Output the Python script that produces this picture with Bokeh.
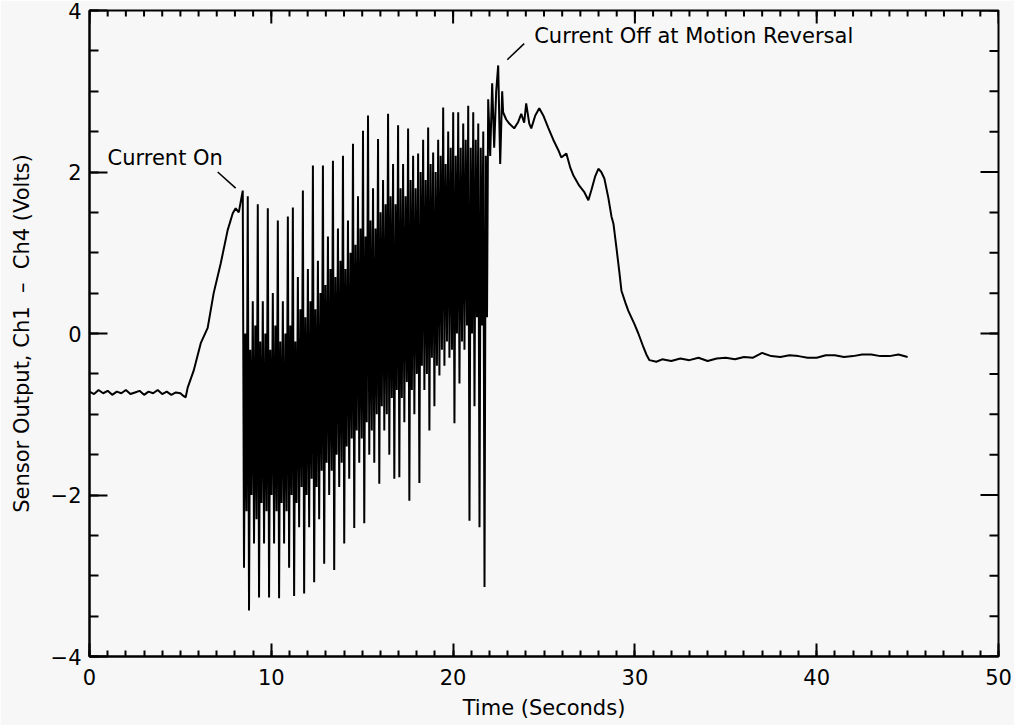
import numpy as np
from bokeh.plotting import figure
from bokeh.models import FixedTicker, Range1d
from bokeh.core.properties import value
from bokeh.embed import file_html
from bokeh.resources import INLINE

# ---- data ----
pre_t = [0.0, 0.25, 0.5, 0.75, 1.0, 1.25, 1.5, 1.75, 2.0, 2.25, 2.5, 2.75, 3.0, 3.25, 3.5,
         3.75, 4.0, 4.25, 4.5, 4.75, 5.0, 5.15, 5.29, 5.40, 5.73, 6.12, 6.50, 6.83, 7.22,
         7.60, 7.88, 8.04, 8.21]
pre_v = [-0.72, -0.75, -0.70, -0.74, -0.71, -0.76, -0.72, -0.74, -0.70, -0.75, -0.73, -0.71,
         -0.76, -0.72, -0.74, -0.70, -0.75, -0.72, -0.76, -0.73, -0.74, -0.77, -0.79, -0.67,
         -0.46, -0.12, 0.07, 0.50, 0.87, 1.28, 1.49, 1.55, 1.50]

# oscillation while the current is on (one cycle = peak, trough, core top, core bottom)
osc_t0 = 8.43
osc_dt = 0.0689
osc_high = [1.77, 1.70, 0.40, 1.60, 0.40, 1.55, 0.50, 1.40, 0.40, 1.45,
            1.56, 0.70, 1.77, 0.80, 2.08, 0.90, 2.08, 1.20, 2.14, 1.30,
            2.20, 1.40, 2.35, 1.70, 2.51, 2.70, 1.80, 2.41, 1.90, 2.72,
            2.10, 2.58, 2.10, 2.54, 2.20, 2.23, 2.40, 2.55, 2.24, 2.40,
            2.80, 2.50, 2.74, 2.74, 2.60, 2.82, 2.74, 2.60, 2.50]
osc_low = [-2.90, -3.43, -2.60, -3.27, -2.60, -3.27, -2.60, -3.28, -2.60, -2.90,
           -3.25, -2.40, -3.22, -2.40, -3.08, -2.30, -2.85, -2.00, -2.93, -1.90,
           -2.60, -1.80, -2.41, -1.60, -2.35, -1.50, -1.60, -1.86, -1.20, -1.50,
           -1.80, -1.78, -1.10, -2.07, -1.00, -1.85, -0.70, -1.20, -0.90, -0.52,
           -0.40, -0.30, -1.11, -0.62, -0.20, -2.32, -0.90, -2.40, -3.14]
osc_core_top = [0.0, -0.2, 0.1, -0.1, 0.0, -0.2, 0.1, -0.1, 0.0, 0.1,
                -0.1, 0.3, 0.2, 0.4, 0.3, 0.5, 0.6, 0.8, 0.7, 0.9,
                0.8, 1.0, 1.1, 1.3, 1.2, 1.4, 1.3, 1.5, 1.6, 1.7,
                1.6, 1.8, 1.7, 1.9, 1.8, 2.0, 1.9, 2.1, 2.0, 2.2,
                2.1, 2.3, 2.2, 2.3, 2.4, 2.3, 2.4, 2.3, 2.2]
osc_core_bot = [-2.2, -2.0, -2.3, -2.1, -2.2, -2.0, -2.2, -2.1, -2.2, -2.0,
                -2.1, -1.9, -2.0, -1.8, -1.9, -1.7, -1.6, -1.7, -1.5, -1.6,
                -1.4, -1.3, -1.2, -1.3, -1.1, -1.2, -1.0, -0.9, -1.0, -0.8,
                -0.7, -0.8, -0.6, -0.7, -0.5, -0.4, -0.5, -0.3, -0.4, -0.2,
                -0.1, -0.2, 0.0, -0.1, 0.1, 0.0, 0.2, 0.1, 0.2]

post_t = [21.93, 22.04, 22.15, 22.26, 22.37, 22.48, 22.59, 22.70, 22.75, 22.92, 23.09, 23.36,
          23.58, 23.75, 23.91, 24.02, 24.19, 24.30, 24.52, 24.74, 24.96, 25.23, 25.51, 25.79,
          25.95, 26.23, 26.45, 26.61, 26.94, 27.22, 27.44, 27.60, 27.82, 27.99, 28.15, 28.32,
          28.54, 28.71, 28.82, 28.98, 29.15, 29.26, 29.48, 29.64, 29.97, 30.19, 30.47, 30.63,
          30.80, 31.18, 31.5, 32.0, 32.5, 33.0, 33.5, 34.0, 34.5, 35.0, 35.5, 36.0, 36.5,
          37.0, 37.5, 38.0, 38.5, 39.0, 39.5, 40.0, 40.5, 41.0, 41.5, 42.0, 42.5, 43.0,
          43.5, 44.0, 44.5, 45.0]
post_v = [2.90, 2.20, 3.10, 2.30, 3.00, 3.32, 2.10, 3.00, 2.74, 2.65, 2.60, 2.54,
          2.62, 2.72, 2.61, 2.85, 2.60, 2.54, 2.70, 2.79, 2.70, 2.55, 2.40, 2.27,
          2.18, 2.23, 2.05, 1.96, 1.83, 1.75, 1.65, 1.77, 1.95, 2.04, 2.00, 1.92,
          1.68, 1.45, 1.36, 1.07, 0.75, 0.53, 0.38, 0.28, 0.12, 0.00, -0.17, -0.26,
          -0.33, -0.35, -0.32, -0.34, -0.31, -0.33, -0.30, -0.34, -0.31, -0.30, -0.32, -0.29,
          -0.30, -0.24, -0.28, -0.29, -0.27, -0.28, -0.30, -0.30, -0.27, -0.27, -0.29, -0.28,
          -0.26, -0.26, -0.28, -0.28, -0.26, -0.29]

x_major = [0, 10, 20, 30, 40, 50]
x_minor = list(range(0, 51))
y_major = [-4, -2, 0, 2, 4]
y_minor = [-4, -3.5, -3, -2.5, -2, -1.5, -1, -0.5, 0, 0.5, 1, 1.5, 2, 2.5, 3, 3.5, 4]
y_labels = {-4: "\u22124", -2: "\u22122", 0: "0", 2: "2", 4: "4"}

ann_on = "Current On"
ann_off = "Current Off at Motion Reversal"

# ---- assemble the series ----
osc_v = []
for h, l, ct, cb in zip(osc_high, osc_low, osc_core_top, osc_core_bot):
    osc_v += [h, l, ct, cb]
osc_t = [osc_t0 + i * osc_dt for i in range(len(osc_v))]
t = pre_t + osc_t + post_t
v = pre_v + osc_v + post_v

FONT = "DejaVu Sans"
FS = "21px"
BG = "#f7f7f7"

p = figure(width=1014, height=725, output_backend="svg", toolbar_location=None,
           x_range=Range1d(0, 50), y_range=Range1d(-4, 4),
           x_axis_label="Time (Seconds)",
           y_axis_label="Sensor Output, Ch1\u00a0\u00a0\u2013\u00a0\u00a0Ch4 (Volts)",
           min_border_left=89, min_border_right=16, min_border_top=10, min_border_bottom=69,
           background_fill_color=BG, border_fill_color=BG)
p.frame_width = 909
p.frame_height = 646
p.xgrid.visible = False
p.ygrid.visible = False
p.outline_line_color = "black"
p.outline_line_width = 2

p.line(t, v, line_color="black", line_width=2.0)

bottom = p.below[0]
left = p.left[0]
bottom.ticker = FixedTicker(ticks=x_major, minor_ticks=x_minor)
left.ticker = FixedTicker(ticks=y_major, minor_ticks=y_minor)

for ax, mj, mn in [(bottom, 13, 6), (left, 18, 9)]:
    ax.axis_line_color = "black"
    ax.axis_line_width = 2
    ax.major_tick_in = mj
    ax.major_tick_out = 0
    ax.minor_tick_in = mn
    ax.minor_tick_out = 0
    ax.major_tick_line_width = 2
    ax.minor_tick_line_width = 2
    ax.major_tick_line_color = "black"
    ax.minor_tick_line_color = "black"
    ax.major_label_text_font = FONT
    ax.major_label_text_font_size = FS
    ax.major_label_text_color = "black"
    ax.axis_label_text_font = FONT
    ax.axis_label_text_font_size = FS
    ax.axis_label_text_font_style = "normal"
    ax.axis_label_text_color = "black"

left.major_label_overrides = y_labels
left.major_label_standoff = 8
left.axis_label_standoff = 14
bottom.major_label_standoff = 12
bottom.axis_label_standoff = 8

# mirrored inward ticks on the top and right edges (screen-sized dash markers, clipped to frame)
p.scatter(x=x_minor, y=[4] * len(x_minor), marker="dash", size=12, angle=np.pi / 2,
          line_color="black", line_width=2)
p.scatter(x=x_major, y=[4] * len(x_major), marker="dash", size=26, angle=np.pi / 2,
          line_color="black", line_width=2)
p.scatter(x=[50] * len(y_minor), y=y_minor, marker="dash", size=18,
          line_color="black", line_width=2)
p.scatter(x=[50] * len(y_major), y=y_major, marker="dash", size=36,
          line_color="black", line_width=2)

# annotations
p.text(x=[0.99], y=[2.17], text=[ann_on], text_font=value(FONT), text_font_size=FS,
       text_baseline="middle", text_align="left", text_color="black")
p.segment(x0=[7.05], y0=[2.00], x1=[8.04], y1=[1.80], line_color="black", line_width=1.5)
p.text(x=[24.46], y=[3.69], text=[ann_off], text_font=value(FONT), text_font_size=FS,
       text_baseline="middle", text_align="left", text_color="black")
p.segment(x0=[23.91], y0=[3.59], x1=[22.98], y1=[3.39], line_color="black", line_width=1.5)

open("out.html", "w").write(file_html(p, INLINE))
